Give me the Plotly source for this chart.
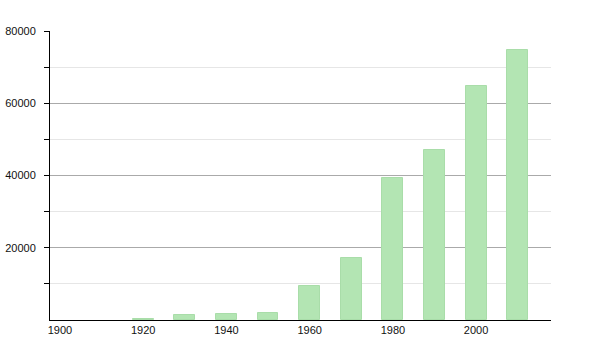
import plotly.graph_objects as go

years = [1920, 1930, 1940, 1950, 1960, 1970, 1980, 1990, 2000, 2010]
population = [400, 1400, 1750, 1950, 9400, 17200, 39300, 47000, 64700, 74700]
x_ticks = [1900, 1920, 1940, 1960, 1980, 2000]
y_ticks = [20000, 40000, 60000, 80000]
y_minor = [10000, 30000, 50000, 70000]

fig = go.Figure()
fig.add_trace(go.Bar(
    x=years, y=population, width=5,
    marker=dict(color="#b3e5b3", line=dict(color="#a9dda9", width=1)),
))

fig.update_layout(
    width=600, height=350,
    margin=dict(l=50, r=49, t=31, b=30),
    paper_bgcolor="white", plot_bgcolor="white",
    showlegend=False,
    font=dict(family="Liberation Sans, Arial, sans-serif", size=11, color="#111"),
    bargap=0,
)
fig.update_xaxes(
    range=[1897.6, 2018], tickvals=x_ticks, ticktext=[str(v) for v in x_ticks],
    showgrid=False, zeroline=False, showline=True, linecolor="black", linewidth=1,
    ticks="", ticklabelstandoff=0, automargin=False,
)
fig.update_yaxes(
    range=[0, 80000], tickvals=y_ticks, ticktext=[str(v) for v in y_ticks],
    showgrid=True, gridcolor="#aaaaaa", gridwidth=1,
    zeroline=False, showline=True, linecolor="black", linewidth=1,
    ticks="outside", ticklen=5, tickcolor="black", ticklabelstandoff=6,
    automargin=False,
    minor=dict(tickmode="array", tickvals=y_minor, showgrid=True, gridcolor="#e6e6e6",
               ticks="outside", ticklen=5, tickcolor="black"),
)

fig.write_html("out.html")
